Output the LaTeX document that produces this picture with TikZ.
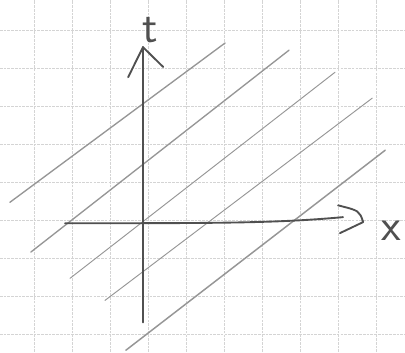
\documentclass[tikz,border=0pt]{standalone}
\usetikzlibrary{calc}
\definecolor{paperline}{RGB}{212,212,212}
\definecolor{pencildark}{RGB}{80,80,80}
\definecolor{pencillight}{RGB}{150,150,150}
\tikzset{
    gridline/.style={draw=paperline, line width=0.4pt, dash pattern=on 2pt off 0.8pt},
    axis/.style={draw=pencildark, line width=1.4pt, line cap=round, line join=round},
    worldline/.style={draw=pencillight, line width=1pt, line cap=round},
    axislabel/.style={font=\fontsize{34}{34}\selectfont\sffamily, text=pencildark, inner sep=0pt}
}

\begin{document}
\begin{tikzpicture}
    \useasboundingbox[fill=white] (-3.76,-3.39) rectangle (6.89,5.87);

    % graph paper
    \foreach \gx in {-2.87,-1.87,...,6.2}
        \draw[gridline] (\gx,-3.39) -- (\gx,5.87);
    \foreach \gy in {-2.93,-1.93,...,5.2}
        \draw[gridline] (-3.76,\gy) -- (6.89,\gy);

    % parallel lines
    \foreach \ax/\ay/\bx/\by/\w in {-3.50/0.55/2.16/4.74/1.0, -2.95/-0.76/3.84/4.55/1.0,
        -1.92/-1.45/5.05/3.97/0.7, -1.00/-2.03/6.03/3.29/0.7, -0.45/-3.34/6.37/1.92/1.1}
        \draw[worldline, line width=\w pt] (\ax,\ay) -- (\bx,\by);

    % axes
    \coordinate (tbot) at (0,-2.61);
    \coordinate (ttip) at (0,4.63);
    \coordinate (xleft) at (-2.05,0);
    \coordinate (xend) at (5.26,0.16);
    \coordinate (xtip) at (5.79,0.03);

    \draw[axis] (tbot) -- (ttip);
    \draw[axis] ($(ttip)+(-0.39,-0.79)$) -- (ttip) -- ($(ttip)+(0.53,-0.52)$);
    \draw[axis] (xleft) .. controls (2,0) and (3.5,0) .. (xend);
    \draw[axis] ($(xtip)+(-0.66,0.44)$) .. controls ($(xtip)+(-0.1,0.3)$) .. (xtip)
        -- ($(xtip)+(-0.61,-0.29)$);

    \node[axislabel] (tlabel) at (0.18,5.08) {t};
    \node[axislabel] (xlabel) at (6.53,-0.21) {x};
\end{tikzpicture}
\end{document}
